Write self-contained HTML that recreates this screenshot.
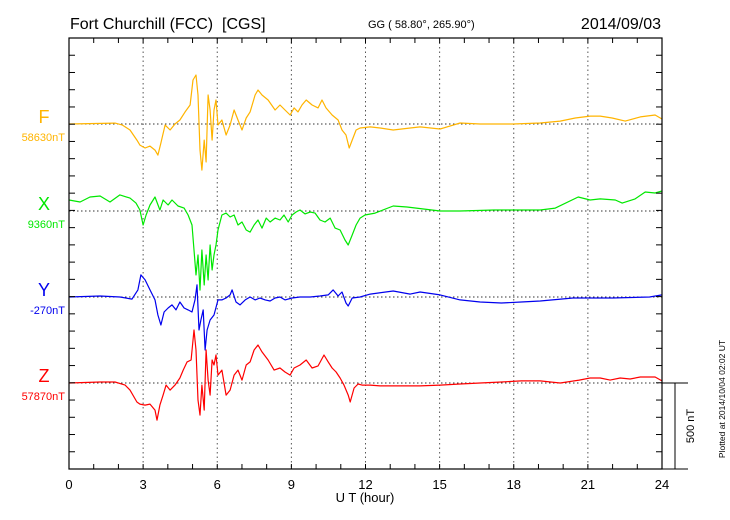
<!DOCTYPE html>
<html><head><meta charset="utf-8"><style>
html,body{margin:0;padding:0;background:#fff;}
svg{display:block;font-family:"Liberation Sans",sans-serif;}
</style></head><body>
<svg id="chart" width="730" height="520" viewBox="0 0 730 520">
<text x="70" y="29" font-size="16" fill="#000">Fort Churchill (FCC)&#160; [CGS]</text>
<text x="368" y="28" font-size="11" fill="#000">GG ( 58.80°, 265.90°)</text>
<text x="661" y="29" font-size="16" fill="#000" text-anchor="end">2014/09/03</text>
<text x="365" y="502" font-size="13" fill="#000" text-anchor="middle">U T (hour)</text>
<text transform="translate(694,426) rotate(-90)" font-size="11" text-anchor="middle" fill="#000">500 nT</text>
<text transform="translate(725,399) rotate(-90)" font-size="8.5" text-anchor="middle" fill="#000">Plotted at 2014/10/04 02:02 UT</text>
<g id="grid"></g><g id="series"></g><g id="axes"></g>
</svg>
<script>
const NS="http://www.w3.org/2000/svg";
const xTicks=[0,3,6,9,12,15,18,21,24];
const seriesNames=["F","X","Y","Z"];
const seriesColors=["#ffb400","#00e800","#0000ee","#ff0000"];
const baseLabels=["58630nT","9360nT","-270nT","57870nT"];
const fT=[0,1.86,2.15,2.47,2.75,2.87,3.08,3.28,3.48,3.6,3.72,3.89,4.09,4.29,4.49,4.7,4.9,5.02,5.14,5.22,5.3,5.38,5.47,5.55,5.63,5.71,5.79,5.87,5.95,6.03,6.19,6.36,6.52,6.68,6.84,7,7.17,7.33,7.53,7.65,7.81,8.06,8.34,8.54,8.74,8.95,9.11,9.27,9.43,9.6,9.84,10.08,10.24,10.4,10.65,10.89,11.05,11.21,11.34,11.46,11.62,11.78,12.19,12.59,13.12,13.81,14.21,15.02,15.83,16.64,17.98,19.07,19.88,20.49,21.09,21.5,21.98,22.51,23.12,23.72,24];
const fV=[0,5,-5,-35,-93,-122,-139,-128,-151,-180,-110,-6,-35,0,23,70,110,255,284,168,-151,-267,-93,-220,168,81,-93,81,139,-6,23,-64,-6,81,23,-35,35,70,168,197,168,139,81,110,81,52,93,70,110,139,110,93,139,93,52,23,-35,-64,-139,-93,-35,-23,-17,-23,-35,-23,-17,-29,6,0,0,6,17,35,46,46,35,17,41,52,29];
const xT=[0,0.45,0.85,1.26,1.66,2.06,2.47,2.71,2.87,3,3.12,3.28,3.48,3.68,3.81,4.01,4.17,4.41,4.66,4.82,4.98,5.06,5.14,5.22,5.3,5.38,5.47,5.55,5.63,5.71,5.79,5.87,5.95,6.03,6.19,6.36,6.52,6.68,6.84,7,7.17,7.33,7.49,7.65,7.81,7.98,8.14,8.34,8.54,8.7,8.87,9.03,9.19,9.35,9.55,9.76,9.96,10.16,10.36,10.57,10.77,10.97,11.17,11.3,11.46,11.62,11.78,11.98,12.39,13.12,13.68,15.02,15.83,17.2,17.98,19.07,19.68,20.61,21.09,21.5,22.11,22.39,22.91,23.32,23.72,24];
const xV=[64,52,81,87,52,93,75,46,6,-81,-23,35,81,6,64,35,64,29,17,-23,-81,-226,-371,-255,-458,-226,-429,-255,-400,-197,-342,-255,-197,-110,-23,-12,-35,-23,-81,-64,-110,-122,-81,-52,-99,-41,-64,-41,-52,-23,-64,-23,-6,6,-17,-6,-12,-52,-64,-41,-99,-110,-168,-197,-139,-81,-41,-23,-12,29,23,0,0,6,6,6,17,81,64,70,64,46,70,110,104,116];
const yT=[0,1.26,2.06,2.55,2.79,2.91,3.08,3.28,3.48,3.6,3.72,3.85,4.01,4.17,4.33,4.49,4.66,4.82,4.98,5.1,5.18,5.26,5.34,5.43,5.51,5.59,5.71,5.87,6.03,6.19,6.36,6.52,6.6,6.76,6.92,7.13,7.33,7.53,7.73,7.94,8.14,8.34,8.54,8.74,9.03,9.35,9.76,10.16,10.49,10.69,10.89,11.05,11.21,11.3,11.46,11.78,12.19,13.12,13.81,14.21,15.02,15.83,16.64,17.5,18.3,19.07,20.4,22,23.5,24];
const yV=[0,6,0,-12,41,128,99,41,-17,-104,-162,-87,-64,-46,-75,-29,-64,-75,-87,-17,70,-191,-133,-75,-307,-191,-133,-104,-17,-17,-6,12,41,-29,-46,-17,0,-17,-6,-17,-23,-6,0,-17,-6,0,0,6,12,41,6,29,-35,-52,-6,0,17,35,17,29,12,-17,-29,-35,-29,-23,-6,-6,0,12];
const zT=[0,1.26,1.86,2.27,2.47,2.75,2.87,3.08,3.28,3.48,3.56,3.68,3.81,3.93,4.09,4.29,4.49,4.62,4.78,4.94,5.06,5.14,5.22,5.3,5.38,5.47,5.55,5.63,5.71,5.79,5.87,5.95,6.03,6.19,6.36,6.52,6.68,6.84,7,7.17,7.33,7.49,7.65,7.81,8.06,8.3,8.54,8.74,8.95,9.11,9.35,9.6,9.84,10.08,10.32,10.49,10.65,10.81,10.97,11.13,11.3,11.38,11.54,11.7,11.86,12.19,12.59,13.4,14.21,15.02,15.83,16.64,17.5,18.3,19.07,19.88,20.65,21.09,21.5,21.9,22.31,22.71,23.12,23.72,24];
const zV=[0,6,6,-12,-41,-110,-122,-128,-122,-157,-215,-128,-70,-12,-41,-12,29,75,122,133,307,191,-99,-186,-12,-157,191,17,-70,133,104,162,46,75,-70,-41,46,75,17,104,122,191,220,180,133,75,87,64,46,87,104,133,87,99,162,122,87,64,29,-12,-70,-110,-29,-6,-12,-12,-17,-17,-17,-12,-6,0,6,12,12,0,17,29,29,17,29,23,35,35,12];
const seriesT=[fT,xT,yT,zT];
const seriesV=[fV,xV,yV,zV];

const L=69,R=662,T=38,B=469;
const baseY=[124,211,297,383];
const pxPerNT=86.3/500;
function xs(h){return L+(R-L)*h/24;}
function ys(i,v){return baseY[i]-v*pxPerNT;}
function mk(tag,attrs,parent){const e=document.createElementNS(NS,tag);for(const k in attrs)e.setAttribute(k,attrs[k]);parent.appendChild(e);return e;}
const grid=document.getElementById('grid'),ser=document.getElementById('series'),ax=document.getElementById('axes');

xTicks.forEach(h=>{
  if(h>0&&h<24){const g=mk('line',{x1:xs(h),x2:xs(h),y1:T,y2:B,stroke:'#555','stroke-width':1,'stroke-dasharray':'1.5,3'},grid);
  
  }
  const t=mk('text',{x:xs(h),y:489,'font-size':13,'text-anchor':'middle',fill:'#000'},ax);
  t.textContent=h;
  
  
});
for(let h=1;h<24;h++){
  const a=mk('line',{x1:xs(h),x2:xs(h),y1:T,y2:T+5,stroke:'#000','stroke-width':1},ax);
  
  
  const b=mk('line',{x1:xs(h),x2:xs(h),y1:B,y2:B-5,stroke:'#000','stroke-width':1},ax);
  
  
}
for(let k=1;k<25;k++){
  const y=T+k*(B-T)/25;
  const a=mk('line',{x1:L,x2:L+6,y1:y,y2:y,stroke:'#000','stroke-width':1},ax);
  
  
  const b=mk('line',{x1:R,x2:R-6,y1:y,y2:y,stroke:'#000','stroke-width':1},ax);
  
  
}
seriesNames.forEach((n,i)=>{
  const g=mk('line',{x1:L,x2:R,y1:baseY[i],y2:baseY[i],stroke:'#333','stroke-width':1,'stroke-dasharray':'1.5,2.5'},grid);
  
  
  const lab=mk('text',{x:44,y:baseY[i]-1,'font-size':18,'text-anchor':'middle',fill:seriesColors[i]},ax);
  lab.textContent=n;
  
  
  const bl=mk('text',{x:65,y:baseY[i]+17,'font-size':11,'text-anchor':'end',fill:seriesColors[i]},ax);
  bl.textContent=baseLabels[i];
  
  
  const pts=seriesT[i].map((t,j)=>xs(t).toFixed(1)+','+ys(i,seriesV[i][j]).toFixed(1)).join(' ');
  const p=mk('polyline',{points:pts,fill:'none',stroke:seriesColors[i],'stroke-width':1.2,'stroke-linejoin':'round'},ser);
  
  
});
const frame=mk('rect',{x:L,y:T,width:R-L,height:B-T,fill:'none',stroke:'#000','stroke-width':1.2},ax);


const s1=mk('path',{d:`M${R} ${baseY[3]}H688M675 ${baseY[3]}V${B}M651 ${B}H688`,stroke:'#000','stroke-width':1,fill:'none'},ax);


</script>
</body></html>
